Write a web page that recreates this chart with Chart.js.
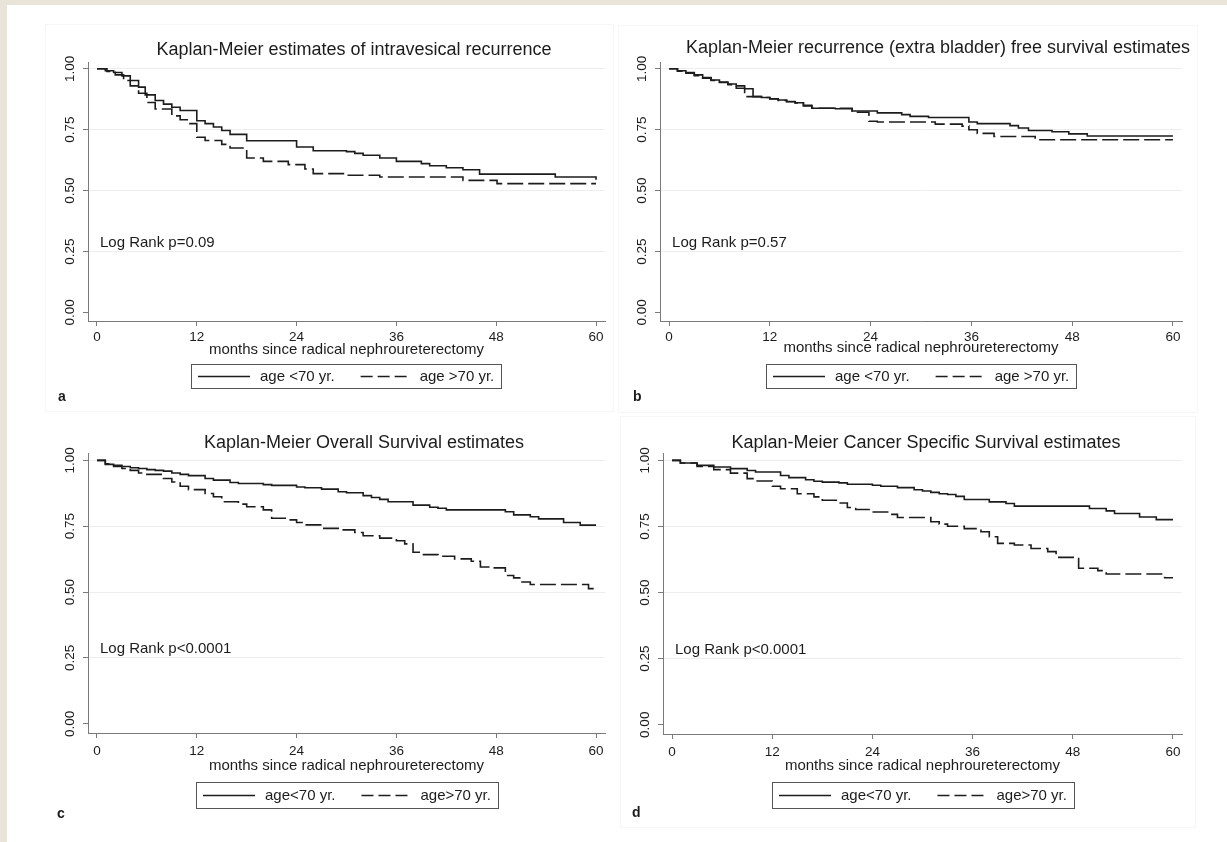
<!DOCTYPE html>
<html>
<head>
<meta charset="utf-8">
<title>Kaplan-Meier estimates</title>
<script src="https://cdn.jsdelivr.net/npm/chart.js@4.4.1/dist/chart.umd.min.js"></script>
<style>
  html, body { margin: 0; padding: 0; }
  body { width: 1227px; height: 842px; background: #e9e4da; position: relative; overflow: hidden; }
  #sheet { position: absolute; left: 7px; top: 5px; right: 0; bottom: 0; background: #fff; }
  .frame { position: absolute; border: 1px solid #f6f6f6; }
  canvas { position: absolute; }
</style>
</head>
<body>
<div id="sheet"></div>
<div class="frame" style="left:45px;top:24px;width:567px;height:386px"></div>
<div class="frame" style="left:618px;top:25px;width:578px;height:386px"></div>
<div class="frame" style="left:620px;top:416px;width:574px;height:410px"></div>
<canvas id="chartA" width="613" height="421" style="left:0;top:0"></canvas>
<canvas id="chartB" width="614" height="421" style="left:613px;top:0"></canvas>
<canvas id="chartC" width="613" height="421" style="left:0;top:421px"></canvas>
<canvas id="chartD" width="614" height="421" style="left:613px;top:421px"></canvas>
<script>
// eixos
const monthTicks = [0, 12, 24, 36, 48, 60];
const survTicks = [0, 0.25, 0.5, 0.75, 1];
const groupLabelsTop = ['age <70 yr.', 'age >70 yr.'];
const groupLabelsBottom = ['age<70 yr.', 'age>70 yr.'];

// (a) intravesical recurrence
const aYoungT = [0, 1, 2, 3, 4, 5, 5.8, 7, 8, 9, 10, 12, 13, 14, 15, 16, 18, 24, 26, 30, 31, 32, 34, 36, 39, 40, 42, 44, 46, 55.1, 60];
const aYoungS = [1, .992, .985, .971, .952, .925, .893, .870, .855, .842, .829, .787, .775, .761, .747, .731, .705, .679, .664, .660, .653, .645, .634, .620, .611, .602, .594, .586, .568, .556, .545];
const aOldT = [0, 1.2, 2.2, 3.2, 4, 5, 6, 7, 9, 10, 11, 12, 13, 15, 16, 18, 20, 23, 25, 26, 30, 34, 44, 48.1, 60];
const aOldS = [1, .989, .975, .952, .930, .900, .862, .835, .807, .791, .775, .719, .706, .690, .675, .634, .620, .607, .589, .570, .563, .556, .542, .529, .529];

// (b) recurrence (extra bladder) free survival
const bYoungT = [0, 1, 2, 3, 4, 5, 6, 7, 8, 9, 10, 11, 12, 13, 14, 15, 16, 17, 19.8, 21.8, 24.8, 27.7, 28.7, 30.9, 35.7, 36.7, 40.6, 41.6, 42.8, 45.6, 47.6, 49.8, 60];
const bYoungS = [1, .992, .985, .975, .964, .954, .946, .938, .930, .918, .886, .882, .877, .872, .866, .861, .850, .838, .836, .827, .819, .812, .805, .800, .782, .775, .767, .757, .747, .742, .733, .724, .724];
const bOldT = [0, 1, 2, 3, 4, 5, 6, 7, 8, 9, 11, 12, 13, 14, 15, 16, 17, 21.8, 23.8, 24.8, 31.7, 34.9, 35.7, 36.7, 38.7, 43.6, 60];
const bOldS = [1, .990, .982, .972, .962, .952, .944, .935, .920, .886, .882, .876, .870, .865, .860, .848, .838, .822, .785, .782, .773, .765, .750, .735, .722, .709, .709];

// (c) overall survival
const cYoungT = [0, 1, 2, 3, 4, 5, 6, 7, 8, 9, 10, 11, 13, 14, 16, 17, 20, 21, 24, 25, 27, 29, 30, 32, 33, 34, 35, 38, 40, 41, 42, 49.1, 50.1, 52.1, 53.1, 56.1, 58.1, 60];
const cYoungS = [1, .985, .981, .977, .972, .969, .965, .962, .959, .952, .947, .942, .931, .925, .916, .912, .908, .905, .899, .896, .891, .881, .877, .866, .859, .852, .843, .830, .822, .818, .812, .805, .793, .786, .778, .764, .754, .754];
const cOldT = [0, 1, 2, 3, 4, 5, 6, 8, 9, 10, 11, 13, 14, 15, 17, 18, 20, 21, 23, 24, 25, 27, 29, 31, 32, 34, 36, 37, 38, 39, 41, 43, 45, 46.1, 47.1, 49.1, 50.1, 51.1, 52.1, 59.1, 60];
const cOldS = [1, .987, .977, .969, .962, .952, .947, .931, .918, .902, .889, .874, .862, .843, .834, .824, .812, .780, .774, .764, .755, .742, .736, .726, .714, .705, .695, .683, .651, .642, .636, .626, .617, .595, .592, .563, .554, .538, .529, .513, .513];

// (d) cancer specific survival
const dYoungT = [0, 1, 3, 5, 7, 9, 10, 13, 14, 16, 17, 18, 20, 21, 24, 25, 27, 29, 30, 31, 32, 33, 34, 35, 38, 40, 41, 50, 52, 53, 56, 58, 60];
const dYoungS = [1, .990, .981, .975, .969, .962, .956, .943, .935, .927, .921, .918, .915, .910, .906, .902, .897, .889, .884, .879, .874, .871, .864, .852, .843, .837, .827, .818, .809, .799, .786, .776, .776];
const dOldT = [0, 1, 3, 5, 7, 9, 10, 12, 13, 15, 17, 18, 20, 21, 22, 24, 26, 27, 31, 32, 33, 35, 37, 38, 39, 41, 43, 45, 46, 48.7, 51, 52, 59, 60];
const dOldS = [1, .990, .977, .965, .952, .931, .922, .902, .893, .874, .862, .849, .839, .822, .814, .805, .796, .784, .768, .759, .751, .742, .730, .711, .686, .680, .667, .655, .633, .592, .583, .570, .556, .556];

const FONT = '"Liberation Sans", Arial, Helvetica, sans-serif';
const INK = '#1c1c1c';
const AXIS = '#7a7a7a';
Chart.defaults.font.family = FONT;
Chart.defaults.color = INK;

function pontos(t, s) {
    return t.map((v, i) => ({ x: v, y: s[i] }));
}

// Títulos, nota do log rank, legenda em caixa e letra do painel
const decoracaoPainel = {
    id: 'decoracaoPainel',
    afterDraw(chart, args, o) {
        const ctx = chart.ctx;
        const area = chart.chartArea;
        const sx = chart.scales.x, sy = chart.scales.y;
        ctx.save();
        ctx.fillStyle = INK;
        ctx.textBaseline = 'middle';

        ctx.font = '18px ' + FONT;
        ctx.textAlign = 'center';
        ctx.fillText(o.title, o.titleX, o.titleY);

        ctx.font = '15px ' + FONT;
        ctx.textAlign = 'left';
        ctx.fillText(o.note, sx.getPixelForValue(0) + 3, sy.getPixelForValue(0.285));

        // legenda
        const sets = chart.data.datasets;
        const w1 = ctx.measureText(sets[0].label).width;
        const w2 = ctx.measureText(sets[1].label).width;
        const total = 7 + 52 + 10 + w1 + 26 + 47 + 12 + w2 + 7;
        const left = Math.round((area.left + area.right) / 2 - total / 2);
        const top = o.legendTop, h = o.legendH, midY = top + h / 2;
        ctx.strokeStyle = '#555';
        ctx.lineWidth = 1;
        ctx.strokeRect(left + 0.5, top + 0.5, Math.round(total), h);

        ctx.strokeStyle = INK;
        ctx.lineWidth = 1.6;
        let x = left + 7;
        ctx.beginPath(); ctx.moveTo(x, midY + 0.5); ctx.lineTo(x + 52, midY + 0.5); ctx.stroke();
        x += 62;
        ctx.fillText(sets[0].label, x, midY + 1);
        x += w1 + 26;
        ctx.setLineDash([12, 5]);
        ctx.beginPath(); ctx.moveTo(x, midY + 0.5); ctx.lineTo(x + 47, midY + 0.5); ctx.stroke();
        ctx.setLineDash([]);
        x += 59;
        ctx.fillText(sets[1].label, x, midY + 1);

        ctx.font = 'bold 14px ' + FONT;
        ctx.fillText(o.letter, o.letterX, o.letterY);
        ctx.restore();
    }
};

function desenharPainel(id, p) {
    const canvas = document.getElementById(id);
    const ox = parseFloat(canvas.style.left), oy = parseFloat(canvas.style.top);
    const yW = 30;
    const xH = p.xTitleY + 9 - p.area.bottom;
    const xPad = 1.08;

    new Chart(canvas, {
        type: 'line',
        data: {
            datasets: [
                { label: p.labels[0], data: pontos(p.youngT, p.youngS), borderColor: INK, borderWidth: 1.6, pointRadius: 0, stepped: 'before', fill: false },
                { label: p.labels[1], data: pontos(p.oldT, p.oldS), borderColor: INK, borderWidth: 1.6, borderDash: [16, 5], pointRadius: 0, stepped: 'before', fill: false }
            ]
        },
        options: {
            responsive: false,
            animation: false,
            devicePixelRatio: 1,
            events: [],
            layout: {
                padding: {
                    left: p.area.left - ox - yW,
                    top: p.area.top - oy,
                    right: ox + canvas.width - p.area.right,
                    bottom: oy + canvas.height - p.area.bottom - xH
                }
            },
            plugins: {
                legend: { display: false },
                tooltip: { enabled: false },
                decoracaoPainel: {
                    title: p.title, titleX: p.titleX - ox, titleY: p.titleY - oy,
                    note: p.note,
                    legendTop: p.legendTop - oy, legendH: p.legendH,
                    letter: p.letter, letterX: p.letterX - ox, letterY: p.letterY - oy
                }
            },
            scales: {
                x: {
                    type: 'linear',
                    min: -xPad,
                    max: 60 + xPad,
                    afterBuildTicks: s => { s.ticks = monthTicks.map(v => ({ value: v })); },
                    afterFit: s => { s.height = xH; },
                    border: { color: AXIS, width: 1 },
                    grid: { drawOnChartArea: false, drawTicks: true, tickLength: 5, tickColor: AXIS },
                    ticks: { autoSkip: false, maxRotation: 0, padding: p.tickPad, font: { size: 13.5 }, color: INK },
                    title: { display: true, text: 'months since radical nephroureterectomy', font: { size: 15 }, color: INK, padding: { top: 0, bottom: 0 } }
                },
                y: {
                    type: 'linear',
                    min: -0.035,
                    max: 1.028,
                    afterBuildTicks: s => { s.ticks = survTicks.map(v => ({ value: v })); },
                    afterFit: s => { s.width = yW; },
                    border: { color: AXIS, width: 1 },
                    grid: {
                        color: c => (c.tick && c.tick.value === 0) ? 'rgba(0,0,0,0)' : '#ededed',
                        tickLength: 5,
                        tickColor: AXIS
                    },
                    ticks: {
                        autoSkip: false, minRotation: 90, maxRotation: 90, crossAlign: 'center', padding: 0,
                        font: { size: 13.5 }, color: INK,
                        callback: v => Number(v).toFixed(2)
                    }
                }
            }
        },
        plugins: [decoracaoPainel]
    });
}

desenharPainel('chartA', {
    title: 'Kaplan-Meier estimates of intravesical recurrence', titleX: 354, titleY: 50,
    note: 'Log Rank p=0.09', labels: groupLabelsTop, letter: 'a', letterX: 58, letterY: 397,
    area: { left: 88, top: 62, right: 605, bottom: 321 }, xTitleY: 350, tickPad: 3,
    legendTop: 364, legendH: 24,
    youngT: aYoungT, youngS: aYoungS, oldT: aOldT, oldS: aOldS
});
desenharPainel('chartB', {
    title: 'Kaplan-Meier recurrence (extra bladder) free survival estimates', titleX: 938, titleY: 48,
    note: 'Log Rank p=0.57', labels: groupLabelsTop, letter: 'b', letterX: 633, letterY: 397,
    area: { left: 660, top: 62, right: 1182, bottom: 321 }, xTitleY: 348, tickPad: 3,
    legendTop: 364, legendH: 24,
    youngT: bYoungT, youngS: bYoungS, oldT: bOldT, oldS: bOldS
});
desenharPainel('chartC', {
    title: 'Kaplan-Meier Overall Survival estimates', titleX: 364, titleY: 443,
    note: 'Log Rank p<0.0001', labels: groupLabelsBottom, letter: 'c', letterX: 57, letterY: 814,
    area: { left: 88, top: 453, right: 605, bottom: 733 }, xTitleY: 766, tickPad: 5,
    legendTop: 782, legendH: 26,
    youngT: cYoungT, youngS: cYoungS, oldT: cOldT, oldS: cOldS
});
desenharPainel('chartD', {
    title: 'Kaplan-Meier Cancer Specific Survival estimates', titleX: 926, titleY: 443,
    note: 'Log Rank p<0.0001', labels: groupLabelsBottom, letter: 'd', letterX: 632, letterY: 813,
    area: { left: 663, top: 453, right: 1182, bottom: 734 }, xTitleY: 766, tickPad: 5,
    legendTop: 782, legendH: 26,
    youngT: dYoungT, youngS: dYoungS, oldT: dOldT, oldS: dOldS
});
</script>
</body>
</html>
